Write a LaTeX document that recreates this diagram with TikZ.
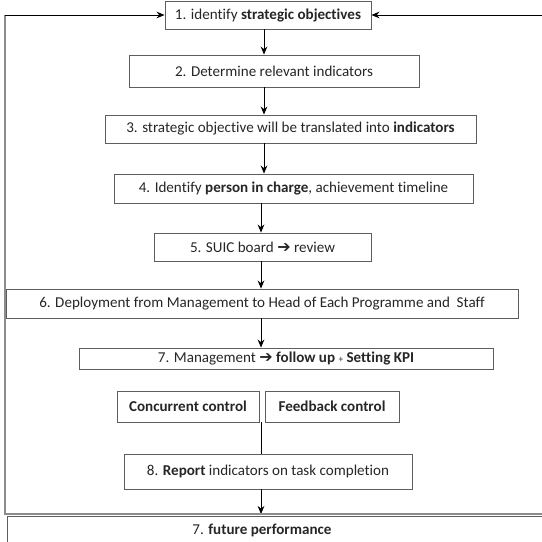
\documentclass[tikz,border=0pt]{standalone}
\usepackage{fontspec}
\setmainfont{Carlito}[Ligatures=NoCommon]
\usetikzlibrary{arrows.meta}
\definecolor{boxline}{HTML}{5E5E5E}
\definecolor{fbline}{HTML}{8C8C8C}
\newfontfamily\symfont{DejaVu Sans}
\newcommand{\bx}[6]{\node[box, minimum width={(#4-#2)*0.75pt}, minimum height={(#5-#3)*0.75pt}] (#1) at ({(#2+#4)/2},{(#3+#5)/2}) {#6};}
\newcommand{\rarr}{{\symfont\fontsize{12}{12}\selectfont ➔}}
\begin{document}
\begin{tikzpicture}[x=0.75pt,y=-0.75pt,
  box/.style={draw=boxline, line width=0.7pt, inner sep=0pt, font=\fontsize{11.3}{13}\selectfont, text=black!85},
  arr/.style={-{Stealth[length=6pt,width=5pt]}, line width=0.6pt, black},
  fb/.style={draw=fbline, line width=0.9pt}]
\useasboundingbox (0,0) rectangle (542,542);
\clip (0,0) rectangle (542,542);
\bx{s1}{165}{1}{371}{29}{1. identify \textbf{strategic objectives}}
\bx{s2}{129}{55}{419}{87}{2. Determine relevant indicators}
\bx{s3}{105}{115}{476}{143}{3. strategic objective will be translated into \textbf{indicators}}
\bx{s4}{114}{174}{473}{203}{4. Identify \textbf{person in charge}, achievement timeline}
\bx{s5}{154}{233}{371}{261}{5. SUIC board \rarr\ review}
\bx{s6}{6}{289}{518}{318}{6. Deployment from Management to Head of Each Programme and\ \ Staff}
\bx{s7}{79}{348}{493}{369}{7. Management \rarr\ \textbf{follow up} {\scriptsize +} \textbf{Setting KPI}}
\bx{cc}{117}{391}{259}{422}{\textbf{Concurrent control}}
\bx{fc}{265}{391}{399}{422}{\textbf{Feedback control}}
\bx{s8}{124}{454}{412}{489}{8. \textbf{Report} indicators on task completion}
\bx{s9}{7}{516}{560}{560}{}
\node[font=\fontsize{11.3}{13}\selectfont, text=black!85] (t9) at (262,530) {7. \textbf{future performance}};
\coordinate (lt) at (5,15);
\coordinate (lb) at (5,514);
\coordinate (rb) at (544,514);
\coordinate (rt) at (544,15);
\coordinate (m1) at (264,0);
\coordinate (m2) at (261,0);
\draw[arr] (m1 |- s1.south) -- (m1 |- s2.north);
\draw[arr] (m1 |- s2.south) -- (m1 |- s3.north);
\draw[arr] (m1 |- s3.south) -- (m1 |- s4.north);
\draw[arr] (m2 |- s4.south) -- (m2 |- s5.north);
\draw[arr] (m2 |- s5.south) -- (m2 |- s6.north);
\draw[arr] (m2 |- s6.south) -- (m2 |- s7.north);
\draw[black, line width=0.6pt] (m2 |- cc.south) -- (m2 |- s8.north);
\draw[arr] (m2 |- s8.south) -- (m2 |- lb);
\draw[fb] (rb) -- (lb) -- (lt);
\draw[arr] (lt) -- (s1.west);
\draw[fb] (rb) -- (rt);
\draw[arr] (rt) -- (s1.east);
\end{tikzpicture}
\end{document}
